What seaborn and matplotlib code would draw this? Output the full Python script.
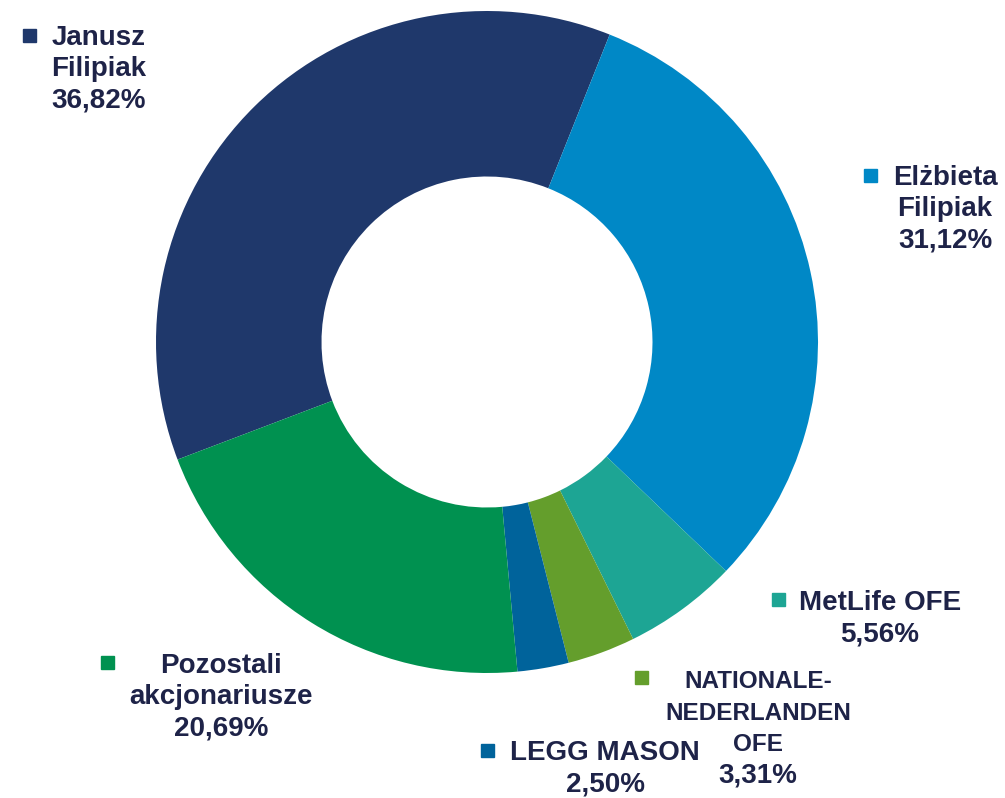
import matplotlib
matplotlib.use('Agg')
import matplotlib.pyplot as plt
from matplotlib.patches import Rectangle
import seaborn as sns

# Shareholder structure (share of votes, %)
holders = ['Janusz\nFilipiak', 'Elżbieta\nFilipiak', 'MetLife OFE',
           'NATIONALE-\nNEDERLANDEN\nOFE', 'LEGG MASON', 'Pozostali\nakcjonariusze']
shares = [36.82, 31.12, 5.56, 3.31, 2.50, 20.69]
colors = ['#1F386B', '#0088C6', '#1DA594', '#649E2C', '#00639B', '#009150']

# label centre x and first baseline y, legend squares, in image pixels
label_pos = [(99, 45), (945, 185), (880, 610), (758, 688), (605, 760), (221, 673)]
name_size = [20, 20, 20, 17.5, 20, 20]
marker_pos = [(29, 35), (870, 175), (778, 599), (641, 677), (487, 750), (107, 662)]
line_step = 31.5

sns.set_theme(style='white')
plt.rcParams['font.family'] = ['Liberation Sans', 'DejaVu Sans']

W, H = 1005, 798
fig = plt.figure(figsize=(W / 100, H / 100), dpi=100)
# donut centre (487, 342) px, radius 331 px
cx, cy, r = 487, 342, 331
ax = fig.add_axes([(cx - r) / W, 1 - (cy + r) / H, 2 * r / W, 2 * r / H])

ax.pie(shares, colors=colors, startangle=90 - 249.2, counterclock=False,
       radius=1, wedgeprops=dict(width=0.5, edgecolor='none'))
ax.set_xlim(-1, 1)
ax.set_ylim(-1, 1)
ax.set_aspect('equal')
ax.axis('off')

text_color = '#1E2348'
for name, val, (x, y0), fs in zip(holders, shares, label_pos, name_size):
    lines = name.split('\n')
    sizes = [fs] * len(lines)
    lines.append(f'{val:.2f}'.replace('.', ',') + '%')
    sizes.append(20)
    for i, (line, s) in enumerate(zip(lines, sizes)):
        fig.text(x / W, 1 - (y0 + i * line_step) / H, line, ha='center', va='baseline',
                 fontsize=s, fontweight='bold', color=text_color)

sq = 13
for (x, y), c in zip(marker_pos, colors):
    fig.add_artist(Rectangle(((x - sq / 2) / W, 1 - (y + sq / 2) / H), sq / W, sq / H,
                             transform=fig.transFigure, color=c))

fig.savefig('out.png', dpi=100, facecolor='white')
